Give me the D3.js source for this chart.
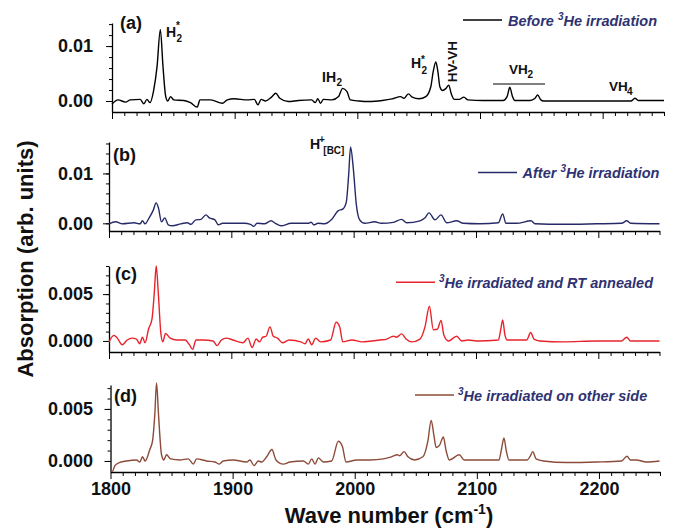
<!DOCTYPE html>
<html><head><meta charset="utf-8">
<script src="https://cdn.jsdelivr.net/npm/d3@7"></script>
<style>
body{margin:0;background:#fff;}
svg{display:block;font-family:"Liberation Sans",Arial,sans-serif;}
</style></head>
<body><svg id="c" width="674" height="532"></svg>
<script>
// ---- data: [wave number (cm-1), absorption] ----
const seriesA = [[1800,-0.00055],[1805,0.0002],[1811,-0.0002],[1815,0.0002],[1823,0.0003],[1826,-0.0005],[1828.5,0.0003],[1831,-0.0003],[1834,0.002],[1836.7,0.0062],[1839.4,0.013],[1841.6,0.0062],[1843.8,0.0008],[1845.5,0],[1847.7,0.0008],[1850.4,0.0002],[1858.6,0.0001],[1864,-0.0003],[1869.5,-0.0011],[1871.7,0.0002],[1880.5,0.0002],[1890,-0.0004],[1894,0.0002],[1899.5,0.0004],[1910.5,0.0002],[1916,0.0003],[1919,-0.0007],[1921.6,0.0003],[1925,0],[1930,0.0007],[1933.5,0.0014],[1936.8,0.0005],[1943.7,-0.0001],[1952,0.0001],[1962.8,0.0002],[1965.6,-0.0003],[1967.8,0.0004],[1970,-0.0004],[1972.4,0.0003],[1979.3,0.0002],[1984.7,0.0008],[1988,0.0023],[1991.6,0.0017],[1994.3,0.0002],[2001.2,0],[2009.4,-0.0001],[2020.4,0.0001],[2028.4,0.0004],[2035.3,0.0008],[2038,0.0005],[2041.6,0.0013],[2044.8,0.0007],[2050.3,0.0004],[2055.8,0.0008],[2059.9,0.0026],[2061.8,0.0053],[2064,0.0071],[2065.7,0.0053],[2067.3,0.0026],[2069.5,0.0019],[2072.3,0.0023],[2074.5,0.0029],[2076.6,0.0013],[2079.1,0.0003],[2083,0.0003],[2086.8,0.0007],[2090.1,0.0002],[2102.4,0.0001],[2118.8,0.0001],[2122.1,0.0008],[2124.3,0.0025],[2126.5,0.0008],[2128.4,0.0001],[2140.8,0.0001],[2144.9,0.0005],[2147,0.0011],[2149.6,0.0002],[2151.8,0],[2184.7,0],[2223,0],[2226.3,0.0005],[2229,0.0001],[2250,0.0001]];

const seriesB = [[1800,-0.0001],[1805.5,0.0003],[1811,-0.0001],[1820.5,0.0001],[1825.4,-0.0001],[1827.3,0.0005],[1829.5,-0.0001],[1832.8,0.0011],[1836.3,0.0027],[1838.5,0.0041],[1840.4,0.0031],[1842.9,0.0003],[1845.6,0.0011],[1848.4,-0.0003],[1851.9,-0.0005],[1858.7,-0.0001],[1864.2,0.0001],[1866.9,-0.0002],[1871,0.0007],[1875.1,0.0008],[1879.2,0.0017],[1882,0.0011],[1886.6,0.0007],[1889.3,-0.0003],[1892.9,0],[1902.5,0],[1910.7,0],[1915.6,-0.0002],[1918.3,-0.0006],[1921,0],[1927,-0.0001],[1932.5,0.0005],[1936,0],[1940.7,-0.0005],[1948.9,0],[1962.6,0],[1965.3,0.0002],[1967.5,-0.0003],[1970.8,0],[1976.2,-0.0001],[1981.7,0.0007],[1987.2,0.0025],[1991.3,0.0029],[1994,0.0043],[1995.9,0.0097],[1997.5,0.0153],[1999.7,0.011],[2002.2,0.0037],[2004.9,0.0007],[2009,0],[2017.2,0.0003],[2022.7,0],[2032.4,0.0002],[2039.2,0.0008],[2043.3,0.0001],[2054.2,0.0005],[2058.3,0.0011],[2061.6,0.0021],[2066.5,0.0007],[2071.4,0.0017],[2076,0.0001],[2084.2,0.0005],[2089.6,0],[2103.3,-0.0001],[2118.3,0.0001],[2121.8,0.0019],[2124.5,0],[2133.2,0],[2145,0.0005],[2148.2,-0.0001],[2171.4,-0.0002],[2198.6,-0.0001],[2219,0],[2223.2,0.0005],[2226.4,0],[2250,-0.0001]];

const seriesC = [[1800,-0.0001],[1804,0.0006],[1806.8,0.0003],[1810.8,-0.0004],[1814.9,0.0001],[1818.9,0.0003],[1822.4,0.0002],[1825.1,-0.0003],[1827.3,0.0004],[1829.5,-0.0002],[1832.4,0.0013],[1835.1,0.0023],[1837,0.0051],[1838.6,0.008],[1840.3,0.0051],[1842.4,0.0008],[1844,-0.0001],[1846.2,0.0008],[1850,0.0003],[1855.4,0.0001],[1862.2,0.0001],[1865.7,-0.0004],[1868.4,-0.0009],[1871.1,0.0001],[1877,0.0001],[1885.1,0],[1888.4,-0.0005],[1891.9,0.0001],[1896,0.0003],[1901.4,0.0001],[1909.5,-0.0002],[1913.5,0.0003],[1917,-0.0007],[1920.3,0.0002],[1923,-0.0001],[1925.7,0.0004],[1928.4,0.0005],[1931.6,0.0015],[1934.3,0.0005],[1937.8,0.0003],[1941.9,-0.0002],[1947.3,0.0001],[1956.8,-0.0001],[1960.3,-0.0003],[1962.9,0.0002],[1965.7,-0.0004],[1968.9,0.0003],[1973,-0.0001],[1981.1,0.0001],[1985.7,0.002],[1988.6,0.0015],[1991.1,-0.0001],[1998.6,0.0001],[2006.8,-0.0001],[2014.9,0],[2021.5,0.0001],[2027,0.0002],[2032.4,0.0005],[2035.1,0.0004],[2039.2,0.00075],[2042.8,0.0002],[2047.4,-0.0001],[2054.2,0.0002],[2058.3,0.0015],[2061.9,0.0037],[2065.1,0.0012],[2068.4,0.00125],[2071.4,0.0022],[2073.8,0.0006],[2077.4,0],[2084.2,0.0005],[2088.3,0],[2093.7,0.0001],[2100.5,0],[2118.3,0.0001],[2120.2,0.0012],[2121.8,0.00225],[2123.7,0.0006],[2125.6,0.0001],[2141.4,0.0001],[2144.7,0.0009],[2147.4,0.0002],[2152.3,0],[2171.4,-0.0001],[2198.6,0],[2219,0],[2223.2,0.0004],[2226.4,0],[2250,0]];

const seriesD = [[1800,-0.001],[1801.6,-0.001],[1803.6,-0.00045],[1807.7,-0.00013],[1813.1,0],[1821.3,0.0001],[1824,-0.0001],[1826.2,0.0004],[1828.4,0],[1832.2,0.0011],[1834.4,0.0019],[1836.3,0.0045],[1837.7,0.0075],[1839.3,0.0045],[1841.8,0.0006],[1843.7,0.0001],[1845.9,0.0006],[1849.2,0.0002],[1856.8,0.0001],[1863.7,0.0002],[1867.8,-0.0003],[1870.5,0.0002],[1878.7,0],[1885.5,-0.0001],[1889.1,-0.0003],[1892.3,0],[1900.5,0.0001],[1911.5,-0.0001],[1914.2,0.0001],[1917.5,-0.00045],[1921,0],[1923.8,-0.0001],[1927.9,0.0004],[1932.2,0.0011],[1935.5,0.0001],[1941.5,-0.0003],[1947,-0.0001],[1957.9,0],[1962,-0.0003],[1964.8,0.0002],[1967.5,-0.0003],[1970.2,0.0003],[1974.3,-0.0001],[1981.1,0],[1986.6,0.0019],[1989.9,0.0014],[1992.9,-0.0001],[2001.6,0.0001],[2012.6,0.0001],[2023.5,0.0002],[2030.1,0.0004],[2035,0.0006],[2036.9,0.0005],[2040.4,0.0009],[2043.6,0.0004],[2049,0.0001],[2055.8,0.0004],[2059.9,0.0019],[2062.6,0.0039],[2064.8,0.0025],[2066.7,0.0013],[2069.4,0.0015],[2072.6,0.0023],[2074.8,0.001],[2077.5,0.0001],[2085.6,0.0006],[2089.7,0.0001],[2095.1,0.0001],[2100.5,0.0001],[2118.2,0.0001],[2120.3,0.0012],[2122.2,0.0022],[2124.1,0.001],[2126.3,0.0001],[2141.2,0.0001],[2143.9,0.0005],[2145.8,0.0009],[2148.5,0.0002],[2154.7,0],[2173.7,-0.00015],[2198.1,-0.0001],[2218.4,0],[2223,0.00045],[2225.7,0.0001],[2230.6,0.0001],[2238.8,-0.0001],[2249.6,0]];

const xMajorTicks = [1800, 1900, 2000, 2100, 2200];
const legendLabels = [["Before ", "3", "He irradiation"], ["After ", "3", "He irradiation"], ["", "3", "He irradiated and RT annealed"], ["", "3", "He irradiated on other side"]];
const panelLabels = ["(a)", "(b)", "(c)", "(d)"];
const yMajorTicksAB = [0, 0.01];
const yMajorTicksCD = [0, 0.005];

// ---- layout ----
const svg = d3.select("#c");
const legendColor = "#2e3272";
const panels = [
  {data: seriesA, color: "#000000", xr: [112, 664], yd: [-0.002, 0.0142], yr: [112, 23], major: yMajorTicksAB, minorStep: 0.002, minorMax: 0.014, fmt: ".2f",
   label: [120, 29], leg: {x1: 463, x2: 502, y: 20, tx: 508, ty: 26}, showX: false},
  {data: seriesB, color: "#262a66", xr: [109, 659.5], yd: [-0.00154, 0.0163], yr: [231, 142], major: yMajorTicksAB, minorStep: 0.002, minorMax: 0.016, fmt: ".2f",
   label: [113, 161], leg: {x1: 478, x2: 517, y: 172.5, tx: 522.5, ty: 178.3}, showX: false},
  {data: seriesC, color: "#e8232b", xr: [109, 659.5], yd: [-0.00118, 0.008], yr: [352, 266], major: yMajorTicksCD, minorStep: 0.001, minorMax: 0.008, fmt: ".3f",
   label: [115, 280], leg: {x1: 396, x2: 435, y: 282.3, tx: 439, ty: 288.3}, showX: false},
  {data: seriesD, color: "#8c4b39", xr: [110.5, 660], yd: [-0.00106, 0.0073], yr: [472, 385], major: yMajorTicksCD, minorStep: 0.001, minorMax: 0.007, fmt: ".3f",
   label: [114, 402], leg: {x1: 415, x2: 454, y: 395, tx: 458, ty: 401}, showX: true}
];

panels.forEach((p, i) => {
  const x = d3.scaleLinear().domain([1800, 2250]).range(p.xr);
  const y = d3.scaleLinear().domain(p.yd).range(p.yr);
  const g = svg.append("g");

  // x axis minor
  const minorX = d3.range(1800, 2251, 10).filter(v => v % 100 !== 0);
  g.append("g").attr("transform", `translate(0,${p.yr[0]})`)
    .call(d3.axisBottom(x).tickValues(minorX).tickSize(4).tickFormat(""))
    .call(s => s.select(".domain").remove());
  const xa = g.append("g").attr("transform", `translate(0,${p.yr[0]})`)
    .call(d3.axisBottom(x).tickValues(xMajorTicks).tickSize(7).tickSizeOuter(0).tickPadding(3)
      .tickFormat(p.showX ? d3.format("d") : ""));
  xa.select(".domain").attr("stroke-width", 1.3);
  xa.selectAll("text").attr("font-size", 18).attr("font-weight", "bold").attr("fill", "#111");

  // y axis minor
  const minorY = d3.range(0, p.minorMax + p.minorStep / 2, p.minorStep).map(v => +v.toFixed(4));
  g.append("g").attr("transform", `translate(${p.xr[0]},0)`)
    .call(d3.axisLeft(y).tickValues(minorY).tickSize(3).tickFormat(""))
    .call(s => s.select(".domain").remove());
  const ya = g.append("g").attr("transform", `translate(${p.xr[0]},0)`)
    .call(d3.axisLeft(y).tickValues(p.major).tickSize(6).tickSizeOuter(0)
      .tickPadding(p.xr[0] - 93 - 6).tickFormat(d3.format(p.fmt)));
  ya.select(".domain").attr("stroke-width", 1.3);
  ya.selectAll("text").attr("font-size", 18).attr("font-weight", "bold").attr("fill", "#111");

  // data line
  const line = d3.line().x(d => x(d[0])).y(d => y(d[1])).curve(d3.curveMonotoneX);
  g.append("path").datum(p.data).attr("d", line)
    .attr("fill", "none").attr("stroke", p.color).attr("stroke-width", 1.4).attr("stroke-linejoin", "round");

  // panel label
  g.append("text").attr("x", p.label[0]).attr("y", p.label[1])
    .attr("font-size", 18).attr("font-weight", "bold").attr("fill", "#111").text(panelLabels[i]);

  // legend
  g.append("line").attr("x1", p.leg.x1).attr("x2", p.leg.x2).attr("y1", p.leg.y).attr("y2", p.leg.y)
    .attr("stroke", p.color).attr("stroke-width", 1.6);
  const lt = g.append("text").attr("x", p.leg.tx).attr("y", p.leg.ty)
    .attr("font-size", 14.5).attr("font-weight", "bold").attr("font-style", "italic").attr("fill", legendColor);
  const parts = legendLabels[i];
  if (parts[0]) lt.append("tspan").text(parts[0]);
  lt.append("tspan").attr("font-size", 10).attr("dy", -6).text(parts[1]);
  lt.append("tspan").attr("dy", 6).text(parts[2]);
});

// ---- annotations ----
const ann = svg.append("g").attr("font-weight", "bold").attr("fill", "#111");
function t(xp, yp, s, fs) { return ann.append("text").attr("x", xp).attr("y", yp).attr("font-size", fs).text(s); }
// H2* (a, left)
t(166, 36.7, "H", 14); t(176, 28.5, "*", 10); t(176.5, 41.5, "2", 10);
// IH2
t(322, 81.7, "IH", 14); t(336.5, 85.5, "2", 10);
// H2* (a, right)
t(411, 68.3, "H", 14); t(421, 62.5, "*", 10); t(421.5, 73.5, "2", 10);
// HV-VH
ann.append("text").attr("transform", "translate(457,61.7) rotate(-90)")
  .attr("text-anchor", "middle").attr("font-size", 13.5).text("HV-VH");
// VH2
t(509, 74, "VH", 13.5); t(527.5, 78.3, "2", 10);
svg.append("line").attr("x1", 493).attr("x2", 545).attr("y1", 84).attr("y2", 84).attr("stroke", "#000").attr("stroke-width", 1.2);
// VH4
t(609, 90.7, "VH", 13.5); t(627, 94.5, "4", 10);
// H+[BC]
t(310, 149, "H", 14); t(319, 142.5, "+", 10); t(323.3, 153.8, "[BC]", 10);

// ---- axis titles ----
svg.append("text").attr("transform", "translate(33,259) rotate(-90)")
  .attr("text-anchor", "middle").attr("font-size", 22).attr("font-weight", "bold").attr("fill", "#111")
  .text("Absorption (arb. units)");
const xt = svg.append("text").attr("x", 389).attr("y", 523).attr("text-anchor", "middle")
  .attr("font-size", 22).attr("font-weight", "bold").attr("fill", "#111");
xt.append("tspan").text("Wave number (cm");
xt.append("tspan").attr("font-size", 14).attr("dy", -9).text("-1");
xt.append("tspan").attr("dy", 9).text(")");
</script></body></html>
